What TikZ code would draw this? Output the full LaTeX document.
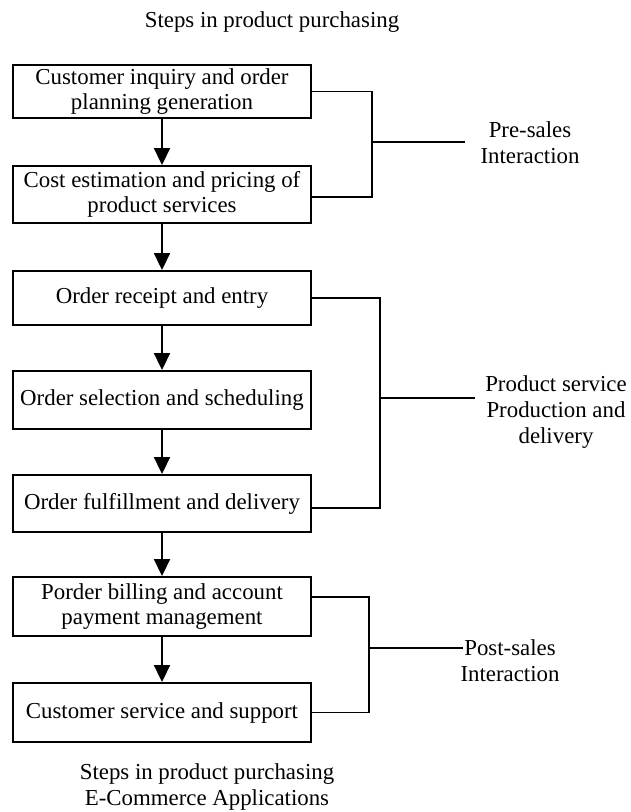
\documentclass[tikz,border=0pt]{standalone}
\usepackage{fontspec}
\setmainfont{Liberation Serif}
\usetikzlibrary{positioning,calc}
\usetikzlibrary{arrows.meta}
\tikzset{
	stage/.style={draw=black,line width=1.1pt,minimum width=5.96cm,align=center,inner sep=2pt,
		font=\fontsize{13}{14.5}\selectfont},
	flow/.style={draw=black,line width=1.1pt,-{Triangle[length=0.34cm,width=0.32cm]}},
	brace/.style={draw=black,line width=0.8pt},
	tag/.style={align=center,font=\fontsize{13}{15}\selectfont},
}

\begin{document}
\begin{tikzpicture}[x=0.02cm,y=-0.02cm]
	\useasboundingbox (0,0) rectangle (631,812);
	\node[tag] (top) at (272,22) {Steps in product purchasing};
	\foreach \n/\y/\h/\t in {b1/91.5/1.06/{Customer inquiry and order\\planning generation},
		b2/194.5/1.14/{Cost estimation and pricing of\\product services},
		b3/298/1.08/{Order receipt and entry},
		b4/400/1.16/{Order selection and scheduling},
		b5/503.5/1.14/{Order fulfillment and delivery},
		b6/606.5/1.18/{Porder billing and account\\payment management},
		b7/712.5/1.18/{Customer service and support}}
	\node[stage,minimum height=\h cm] (\n) at (162,\y) {\t};
	\foreach \a/\b in {b1/b2,b2/b3,b3/b4,b4/b5,b5/b6,b6/b7}
	\draw[flow] (\a) -- (\b);
	% brackets to the phases
	\coordinate (pre) at (372,142);
	\coordinate (preend) at (465,142);
	\coordinate (prod) at (380,398);
	\coordinate (prodend) at (475,398);
	\coordinate (post) at (369,648);
	\coordinate (postend) at (463,648);
	\draw[brace] (b1.east) -| (pre) |- ([yshift=-0.05cm]b2.east);
	\draw[brace] (b3.east) -| (prod) |- ([yshift=-0.09cm]b5.east);
	\draw[brace] ([yshift=0.19cm]b6.east) -| (post) |- (b7.east);
	\draw[brace] (pre) -- (preend);
	\draw[brace] (prod) -- (prodend);
	\draw[brace] (post) -- (postend);
	\node[tag] (presales) at (530,143) {Pre-sales\\Interaction};
	\node[tag] (prodtag) at (556,412) {Product service\\Production and\\delivery};
	\node[tag] (posttag) at (510,661) {Post-sales\\Interaction};
	\node[tag] (bottom) at (207,787) {Steps in product purchasing\\E-Commerce Applications};
\end{tikzpicture}
\end{document}
